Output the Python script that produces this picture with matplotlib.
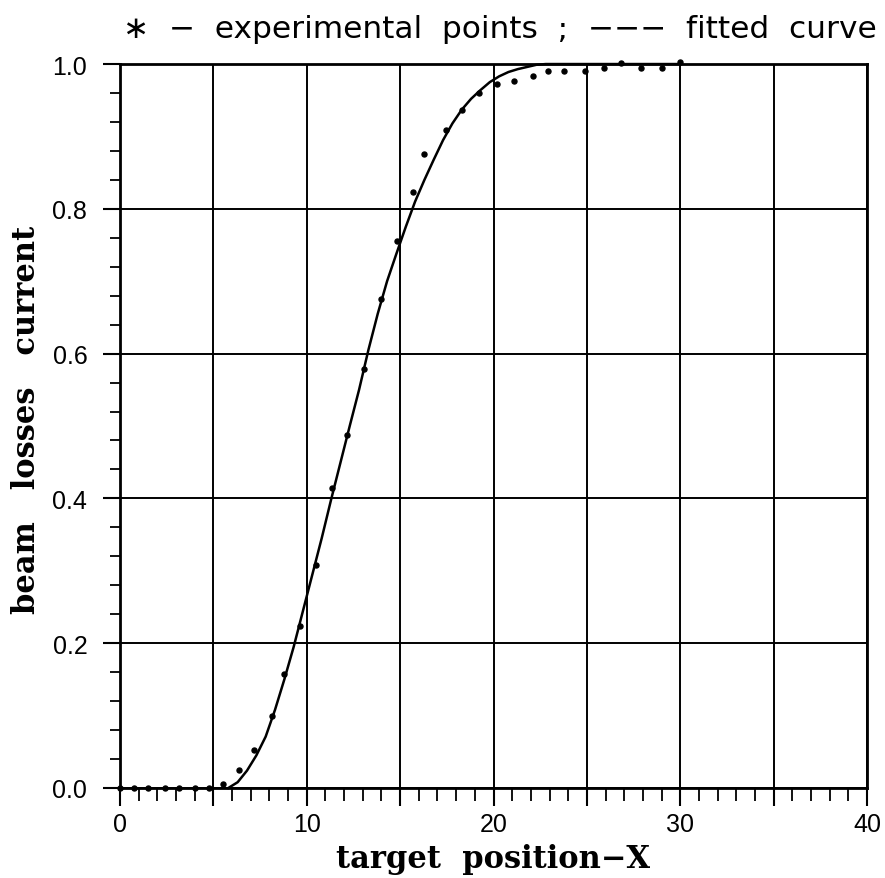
import matplotlib
matplotlib.use("Agg")
import matplotlib.pyplot as plt
from matplotlib.ticker import MultipleLocator, FuncFormatter

# experimental points
exp_x = [0.0, 0.75, 1.52, 2.41, 3.17, 4.0, 4.78, 5.5, 6.39, 7.17, 8.14, 8.8, 9.64,
         10.49, 11.37, 12.18, 13.08, 13.97, 14.81, 15.7, 16.29, 17.45, 18.32, 19.2,
         20.2, 21.1, 22.1, 22.9, 23.8, 24.9, 25.9, 26.8, 27.9, 29.0, 30.0]
exp_y = [0.0, 0.0, 0.0, 0.0, 0.0, 0.0, 0.0, 0.005, 0.025, 0.052, 0.10, 0.157, 0.224,
         0.308, 0.415, 0.488, 0.579, 0.676, 0.756, 0.823, 0.876, 0.909, 0.936, 0.96,
         0.973, 0.976, 0.984, 0.991, 0.991, 0.991, 0.995, 1.002, 0.994, 0.994, 1.003]

# fitted curve
fit_x = [5.8, 6.3, 6.8, 7.3, 7.8, 8.3, 8.8, 9.3, 9.8, 10.3, 10.8, 11.3, 11.8, 12.3,
         12.8, 13.3, 13.8, 14.3, 14.8, 15.3, 15.8, 16.3, 16.8, 17.3, 17.8, 18.3,
         18.8, 19.3, 19.8, 20.3, 20.8, 21.3, 21.8, 22.3, 22.8, 30.0]
fit_y = [0.0, 0.008, 0.024, 0.045, 0.071, 0.108, 0.15, 0.195, 0.245, 0.295, 0.345,
         0.398, 0.449, 0.5, 0.55, 0.605, 0.655, 0.70, 0.738, 0.775, 0.81, 0.84,
         0.868, 0.895, 0.918, 0.937, 0.952, 0.964, 0.975, 0.983, 0.989, 0.993,
         0.996, 0.999, 1.0, 1.0]

x_label_values = [0, 10, 20, 30, 40]
y_ticks = [0.0, 0.2, 0.4, 0.6, 0.8, 1.0]

title_text = "\u2217  \u2212  experimental  points  ;  \u2212\u2212\u2212  fitted  curve"
xlabel_text = "target  position\u2212X"
ylabel_text = "beam   losses   current"

tick_family = ['Liberation Sans', 'DejaVu Sans']

fig = plt.figure(figsize=(8.85, 8.79), dpi=100)
ax = fig.add_axes([0.1356, 0.1024, 0.8441, 0.8236])

ax.set_xlim(0, 40)
ax.set_ylim(0, 1.0)

ax.xaxis.set_major_locator(MultipleLocator(5))
ax.xaxis.set_minor_locator(MultipleLocator(1))
ax.yaxis.set_major_locator(MultipleLocator(0.2))
ax.yaxis.set_minor_locator(MultipleLocator(0.04))
ax.grid(True, which='major', color='black', linewidth=1.4)
ax.set_axisbelow(True)

ax.xaxis.set_major_formatter(FuncFormatter(
    lambda v, p: f"{int(round(v))}" if int(round(v)) in x_label_values else ""))
ax.yaxis.set_major_formatter(FuncFormatter(lambda v, p: f"{v:.1f}"))

ax.tick_params(axis='x', which='major', direction='out', length=13, width=1.5,
               labelsize=18, pad=4)
ax.tick_params(axis='x', which='minor', direction='out', length=9, width=1.3)
ax.tick_params(axis='y', which='major', direction='out', length=12.5, width=1.5,
               labelsize=18, pad=11)
ax.tick_params(axis='y', which='minor', direction='out', length=7.5, width=1.3)
for lab in ax.get_xticklabels() + ax.get_yticklabels():
    lab.set_fontfamily(tick_family)

for s in ax.spines.values():
    s.set_linewidth(2)
    s.set_color('black')

ax.plot(fit_x, fit_y, color='black', linewidth=1.8, clip_on=False, zorder=3)
ax.plot(exp_x, exp_y, linestyle='none', marker='o', markersize=3.6,
        color='black', clip_on=False, zorder=4)

ax.set_xlabel(xlabel_text, fontsize=22, fontweight='bold', fontfamily='DejaVu Serif')
ax.xaxis.set_label_coords(0.5, -0.076)
ax.xaxis.label.set_verticalalignment('top')
ax.set_ylabel(ylabel_text, fontsize=22, fontweight='bold', fontfamily='DejaVu Serif')
ax.yaxis.set_label_coords(-0.105, 0.51)

fig.text(0.565, 0.966, title_text, ha='center', va='center', fontsize=22.5,
         fontfamily=['DejaVu Sans'])

fig.savefig("out.png", dpi=100, facecolor='white')
